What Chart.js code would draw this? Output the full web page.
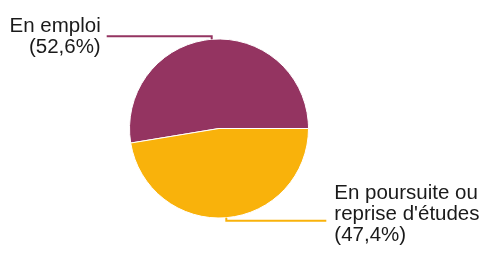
<!DOCTYPE html>
<html>
<head>
<meta charset="utf-8">
<script src="https://cdn.jsdelivr.net/npm/chart.js@4/dist/chart.umd.min.js"></script>
<style>
  html, body { margin: 0; padding: 0; background: #fff; }
  #wrap { width: 485px; height: 257px; position: relative; }
</style>
</head>
<body>
<div id="wrap"><canvas id="pie"></canvas></div>
<script>
  // données
  const categories = [['En emploi'], ['En poursuite ou', "reprise d'études"]];
  const values = [52.6, 47.4];
  const colors = ['#943461', '#f9b20b'];

  const total = values.reduce((a, b) => a + b, 0);
  const pct = (v) => '(' + (v / total * 100).toFixed(1).replace('.', ',') + '%)';

  // étiquettes avec traits de rappel
  const leaderLabels = {
    id: 'leaderLabels',
    afterDatasetsDraw(chart) {
      const ctx = chart.ctx;
      const arcs = chart.getDatasetMeta(0).data;
      ctx.save();
      ctx.font = '20.5px "Liberation Sans", Arial, sans-serif';
      ctx.fillStyle = '#1a1a1a';
      ctx.lineWidth = 2;
      arcs.forEach((arc, i) => {
        const p = arc.getProps(['x', 'y', 'startAngle', 'endAngle', 'outerRadius'], true);
        const mid = (p.startAngle + p.endAngle) / 2;
        const px = p.x + Math.cos(mid) * p.outerRadius;
        const py = p.y + Math.sin(mid) * p.outerRadius;
        const left = Math.cos(mid) < 0;
        const ey = py + (Math.sin(mid) < 0 ? -3 : 3);
        const ex = left ? px - 105 : px + 100;
        ctx.strokeStyle = colors[i];
        ctx.beginPath();
        ctx.moveTo(px, py);
        ctx.lineTo(px, ey);
        ctx.lineTo(ex, ey);
        ctx.stroke();

        const lines = categories[i].concat([pct(values[i])]);
        const y0 = ey - 4 - (lines.length - 2) * 18;
        ctx.textAlign = left ? 'right' : 'left';
        ctx.textBaseline = 'alphabetic';
        lines.forEach((t, k) => {
          ctx.fillText(t, left ? ex - 6 : ex + 8, y0 + k * 21);
        });
      });
      ctx.restore();
    }
  };

  new Chart(document.getElementById('pie'), {
    type: 'pie',
    data: {
      labels: categories,
      datasets: [{
        data: values,
        backgroundColor: colors,
        borderColor: '#ffffff',
        borderWidth: 1,
      }],
    },
    options: {
      responsive: true,
      maintainAspectRatio: false,
      devicePixelRatio: 1,
      animation: false,
      rotation: 90 + 360 * values[1] / total,
      layout: { padding: { left: 129, right: 176, top: 38, bottom: 38 } },
      plugins: {
        legend: { display: false },
        tooltip: { enabled: false },
      },
    },
    plugins: [leaderLabels],
  });
</script>
</body>
</html>
